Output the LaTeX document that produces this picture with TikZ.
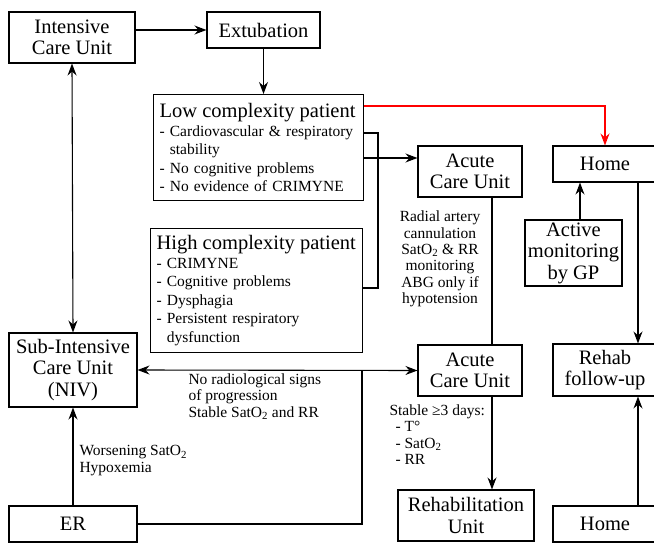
\documentclass[tikz,border=0pt]{standalone}
\usepackage{fontspec}
\setmainfont{Liberation Serif}
\usetikzlibrary{arrows.meta}
\newcommand\bigtxt{\fontsize{20.5}{21.5}\selectfont}
\newcommand\midtxt{\fontsize{15.5}{18.5}\selectfont}
\newcommand\smalltxt{\fontsize{15.5}{16.4}\selectfont}
\begin{document}
\begin{tikzpicture}[x=1pt, y=-1pt, line width=1.1pt,
        unit/.style={draw, align=center, inner sep=0pt, font=\bigtxt},
        list/.style={draw, align=left, anchor=north west, inner xsep=6pt, inner ysep=0pt, font=\midtxt},
        lbl/.style={font=\smalltxt, inner sep=0pt},
        >={Stealth[length=12pt, width=9pt, inset=4pt]}]
        \clip (0,0) rectangle (654,543);
        % left column
        \node [unit, minimum width=126pt, minimum height=51pt] (icu) at (72,37.5) {Intensive\\Care Unit};
        \node [unit, minimum width=128pt, minimum height=74pt] (sub) at (73,370) {Sub-Intensive\\Care Unit\\(NIV)};
        \node [unit, minimum width=128pt, minimum height=36pt] (er) at (73,524) {ER};
        % middle
        \node [list, text width=198pt, minimum height=106pt] (low) at (153,94) {%
            {\bigtxt Low complexity patient}\\
            - Cardiovascular \& respiratory\\
            \hphantom{- }stability\\
            - No cognitive problems\\
            - No evidence of CRIMYNE};
        \node [unit, minimum width=113pt, minimum height=36pt] (ext) at (263.5,30) {Extubation};
        \node [list, text width=200pt, minimum height=124pt] (high) at (150,228) {%
            {\bigtxt High complexity patient}\\
            - CRIMYNE\\
            - Cognitive problems\\
            - Dysphagia\\
            - Persistent respiratory\\
            \hphantom{- }dysfunction};
        % acute care
        \node [unit, minimum width=104pt, minimum height=51pt] (acu1) at (470,171.5) {Acute\\Care Unit};
        \node [unit, minimum width=104pt, minimum height=51pt] (acu2) at (470,370.5) {Acute\\Care Unit};
        \node [unit, minimum width=136pt, minimum height=51pt] (rehab) at (466,515.5) {Rehabilitation\\Unit};
        % right column
        \node [unit, minimum width=104pt, minimum height=36pt] (home1) at (605,164) {Home};
        \node [unit, minimum width=97pt, minimum height=66pt] (gp) at (573.5,253) {Active\\monitoring\\by GP};
        \node [unit, minimum width=104pt, minimum height=52pt] (rfu) at (605,370) {Rehab\\follow-up};
        \node [unit, minimum width=104pt, minimum height=36pt] (home2) at (605,524) {Home};
        % labels
        \node [lbl, align=center] (radial) at (440,259) {Radial artery\\cannulation\\SatO\textsubscript{2} \& RR\\monitoring\\ABG only if\\hypotension};
        \node [lbl, align=left, anchor=north west] (stable) at (389,404) {Stable ≥3 days:\\
            \hspace{6pt}- T°\\
            \hspace{6pt}- SatO\textsubscript{2}\\
            \hspace{6pt}- RR};
        \node [lbl, align=left, anchor=north west] (noradio) at (188,373) {No radiological signs\\of progression\\Stable SatO\textsubscript{2} and RR};
        \node [lbl, align=left, anchor=north west] (worse) at (79,445) {Worsening SatO\textsubscript{2}\\Hypoxemia};
        % connectors
        \draw [->] (icu.east |- ext.west) -- (ext.west);
        \draw [->] (ext.south) -- (ext.south |- low.north);
        \draw [<->] (icu.south) -- (sub.north);
        \draw [red, ->] (low.east |- 0,106) -| (home1.north);
        \draw (low.east |- 0,133) -- (378,133) -- (378,288) -- (high.east |- 0,288);
        \draw [->] (low.east |- 0,158) -- (acu1.west |- 0,158);
        \draw [->] (gp.north -| 580,0) -- (home1.south -| 580,0);
        \draw [->] (home1.south -| 638,0) -- (rfu.north -| 638,0);
        \draw [->] (home2.north -| 638,0) -- (rfu.south -| 638,0);
        \draw (acu1.south -| 492,0) -- (acu2.north -| 492,0);
        \draw [->] (acu2.south -| 492,0) -- (rehab.north -| 492,0);
        \draw [<->] (sub.east) -- (acu2.west);
        \draw (er.east) -| (362,370);
        \draw [->] (er.north) -- (sub.south);
\end{tikzpicture}
\end{document}
